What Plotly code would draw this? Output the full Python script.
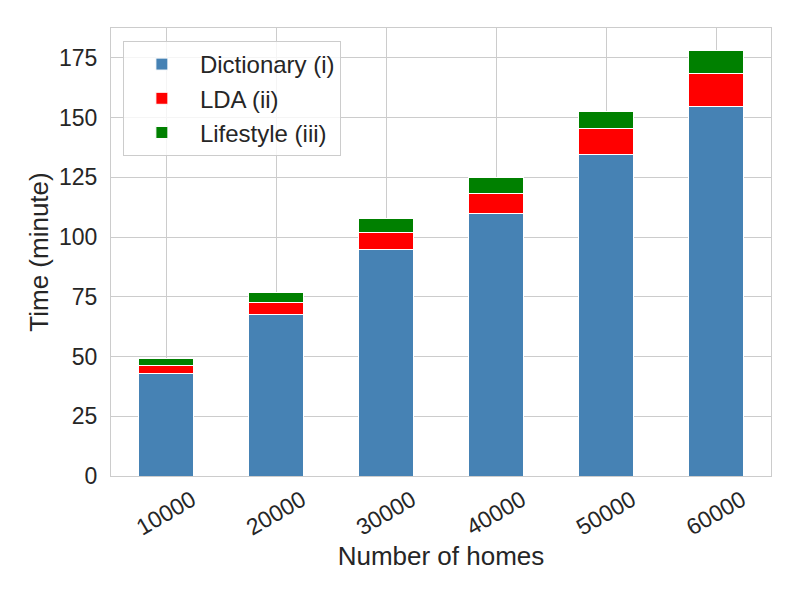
import plotly.graph_objects as go

homes = ["10000", "20000", "30000", "40000", "50000", "60000"]
dictionary = [42.8, 67.8, 94.7, 110.0, 134.5, 154.6]
lda = [3.4, 5.0, 7.1, 8.3, 10.9, 13.8]
lifestyle = [2.8, 4.2, 5.8, 6.7, 7.2, 9.7]
y_ticks = [0, 25, 50, 75, 100, 125, 150, 175]

series = [
    ("Dictionary (i)", dictionary, "#4682b4"),
    ("LDA (ii)", lda, "#ff0000"),
    ("Lifestyle (iii)", lifestyle, "#008000"),
]

fig = go.Figure()
for name, vals, col in series:
    fig.add_trace(go.Bar(
        x=homes, y=vals, name=name, width=0.5, legendgroup=name,
        marker=dict(color=col, line=dict(color="white", width=1)),
    ))

font = "Liberation Sans, Arial, sans-serif"
tick_col = "#262626"

# x tick labels, rotated about their centre (as in the reference)
for i, h in enumerate(homes):
    fig.add_annotation(
        x=i, xref="x", y=0, yref="paper", yshift=-37,
        text=h, textangle=-30, showarrow=False,
        xanchor="center", yanchor="middle",
        font=dict(family=font, size=23, color=tick_col),
    )

fig.update_layout(
    barmode="stack",
    width=800, height=600,
    paper_bgcolor="white", plot_bgcolor="white",
    margin=dict(l=103, r=37, t=20, b=132),
    font=dict(family=font, size=23, color=tick_col),
    legend=dict(
        x=0.018, y=0.971, xanchor="left", yanchor="top",
        bgcolor="rgba(255,255,255,0.8)", bordercolor="#cccccc", borderwidth=1,
        font=dict(size=24, color=tick_col),
        traceorder="normal", tracegroupgap=3, itemwidth=66,
    ),
    xaxis=dict(
        type="category", range=[-0.5, 5.5],
        showticklabels=False,
        title=dict(text="Number of homes", font=dict(size=26), standoff=70),
        showgrid=True, gridcolor="#cccccc", gridwidth=1,
        showline=True, linecolor="#cccccc", linewidth=1, mirror=True,
        ticks="",
    ),
    yaxis=dict(
        range=[0, 187.5], tickvals=y_ticks,
        tickfont=dict(size=23), ticklabelstandoff=8,
        title=dict(text="Time (minute)", font=dict(size=26), standoff=2),
        showgrid=True, gridcolor="#cccccc", gridwidth=1,
        showline=True, linecolor="#cccccc", linewidth=1, mirror=True,
        zeroline=False, ticks="",
    ),
)

fig.write_html("out.html")
